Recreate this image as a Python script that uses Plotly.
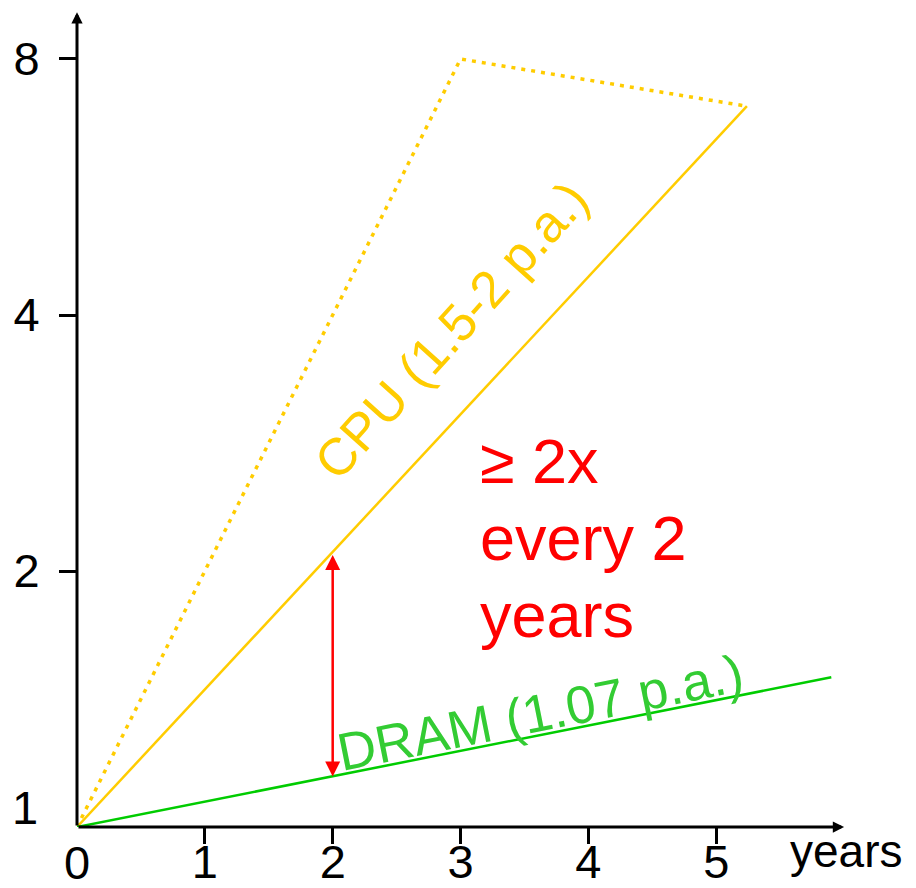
import math
import plotly.graph_objects as go

# Relative performance growth (log2 scale), starting at 1 in year 0
cpu_years = [0, 5.24]
cpu_perf = [1, 7.04]

cpu_upper_years = [0, 3, 5.24]
cpu_upper_perf = [1, 8, 7.04]

dram_years = [0, 5.9]
dram_perf = [1, 1.5]

# Gap between CPU and DRAM after two years
gap_year = 2
gap_low = 1.142
gap_high = 2.089

x_tick_vals = [1, 2, 3, 4, 5]
x_tick_text = ["1", "2", "3", "4", "5"]
y_tick_vals = [2, 4, 8]
y_tick_text = ["2", "4", "8"]

gap_note = ["\u2265 2x", "every 2", "years"]

CPU_COLOR = "#FFCC00"
DRAM_COLOR = "#00CC00"
DRAM_TEXT = "#33CC33"
RED = "#FF0000"
FONT = "Liberation Sans, Arial, sans-serif"

L = math.log10

fig = go.Figure()

fig.add_trace(go.Scatter(
    x=cpu_upper_years, y=cpu_upper_perf, mode="lines",
    line=dict(color=CPU_COLOR, width=3.5, dash="4px,6px"),
    hoverinfo="skip", showlegend=False,
))
fig.add_trace(go.Scatter(
    x=cpu_years, y=cpu_perf, mode="lines",
    line=dict(color=CPU_COLOR, width=2.5),
    hoverinfo="skip", showlegend=False,
))
fig.add_trace(go.Scatter(
    x=dram_years, y=dram_perf, mode="lines",
    line=dict(color=DRAM_COLOR, width=2.5),
    hoverinfo="skip", showlegend=False,
))

annotations = []

# Axis lines with arrow heads
annotations.append(dict(
    x=6.0, y=L(1), ax=0, ay=L(1), xref="x", yref="y", axref="x", ayref="y",
    text="", showarrow=True, arrowhead=2, arrowsize=0.75, arrowwidth=3,
    arrowcolor="black",
))
annotations.append(dict(
    x=0, y=L(9.08), ax=0, ay=L(1), xref="x", yref="y", axref="x", ayref="y",
    text="", showarrow=True, arrowhead=2, arrowsize=0.75, arrowwidth=3,
    arrowcolor="black",
))

# Origin labels
annotations.append(dict(
    x=0, y=L(1), xref="x", yref="y", text="0", showarrow=False,
    xanchor="center", yanchor="middle", yshift=-35, borderpad=0,
    font=dict(family=FONT, size=47, color="black"),
))
annotations.append(dict(
    x=0, y=L(1), xref="x", yref="y", text="1", showarrow=False,
    xanchor="right", yanchor="middle", xshift=-37, yshift=20,
    font=dict(family=FONT, size=47, color="black"),
))
annotations.append(dict(
    x=6.0, y=L(1), xref="x", yref="y", text="years", showarrow=False,
    xanchor="center", yanchor="middle", xshift=2, yshift=-24,
    font=dict(family=FONT, size=46, color="black"),
))

# Double arrow marking the gap
annotations.append(dict(
    x=gap_year, y=L(gap_high), ax=gap_year, ay=L(gap_low),
    xref="x", yref="y", axref="x", ayref="y",
    text="", showarrow=True, arrowside="end+start",
    arrowhead=2, startarrowhead=2, arrowsize=1.2, startarrowsize=1.2,
    arrowwidth=2.5, arrowcolor=RED,
))

# Series labels along the lines
annotations.append(dict(
    x=2.93, y=L(3.84), xref="x", yref="y", text="CPU (1.5-2 p.a.)",
    showarrow=False, textangle=-48,
    font=dict(family=FONT, size=52, color=CPU_COLOR),
))
annotations.append(dict(
    x=3.62, y=L(1.365), xref="x", yref="y", text="DRAM (1.07 p.a.)",
    showarrow=False, textangle=-11.3,
    font=dict(family=FONT, size=53, color=DRAM_TEXT),
))

# Note on the growth gap, one annotation per line
for line, y_val in zip(gap_note, [2.694, 2.187, 1.775]):
    annotations.append(dict(
        x=3.14, y=L(y_val), xref="x", yref="y", text=line, align="left",
        showarrow=False, xanchor="left", yanchor="middle",
        font=dict(family=FONT, size=63, color=RED),
    ))

fig.update_layout(
    width=916, height=888,
    margin=dict(l=77, r=8, t=10, b=61, autoexpand=False),
    paper_bgcolor="white", plot_bgcolor="white",
    showlegend=False,
    annotations=annotations,
    xaxis=dict(
        range=[0, 6.5], showgrid=False, zeroline=False, showline=False,
        automargin=False,
        tickmode="array", tickvals=x_tick_vals, ticktext=x_tick_text,
        ticks="outside", ticklen=16, tickwidth=3, tickcolor="black",
        ticklabelstandoff=-22,
        tickfont=dict(family=FONT, size=47, color="black"),
    ),
    yaxis=dict(
        type="log", range=[0, 0.9607], showgrid=False, zeroline=False,
        showline=False, automargin=False,
        tickmode="array", tickvals=y_tick_vals, ticktext=y_tick_text,
        ticks="outside", ticklen=17, tickwidth=3, tickcolor="black",
        ticklabelstandoff=10,
        tickfont=dict(family=FONT, size=47, color="black"),
    ),
)

fig.write_html("out.html")
